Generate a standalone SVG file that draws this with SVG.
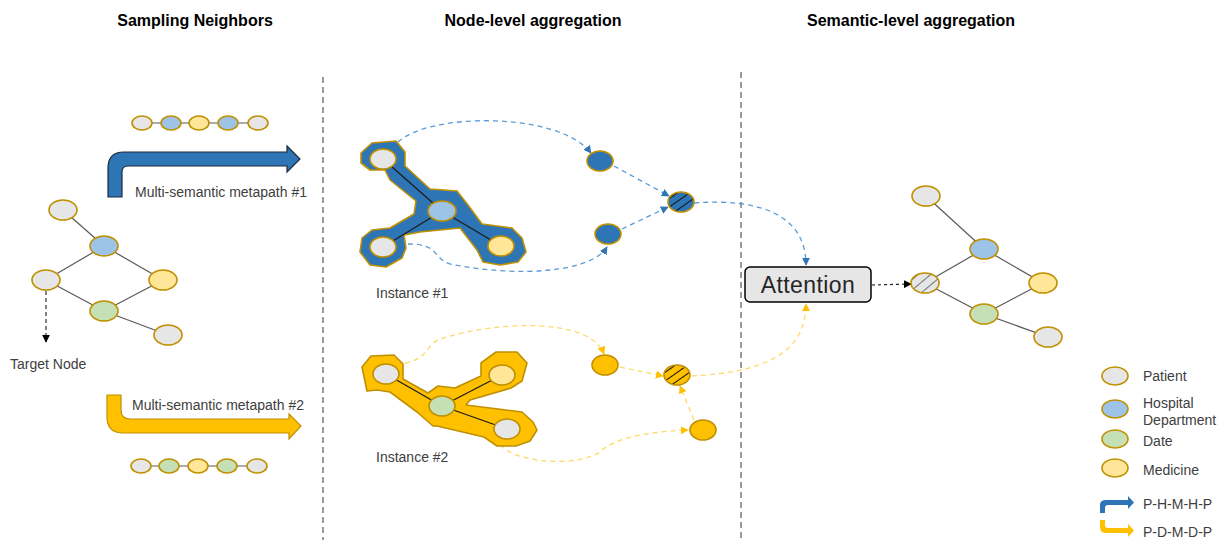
<svg xmlns="http://www.w3.org/2000/svg" width="1231" height="540" viewBox="0 0 1231 540">
<defs>
<style>
.t{font-family:"Liberation Sans",Arial,sans-serif;font-weight:bold;font-size:16px;fill:#000;text-anchor:middle}
.lb{font-family:"Liberation Sans",Arial,sans-serif;font-size:14px;fill:#404040}
.n{stroke:#BF9000;stroke-width:1.6}
.pa{fill:#E7E6E6}.ho{fill:#9DC3E6}.da{fill:#C5E0B4}.me{fill:#FFE699}.db{fill:#2E75B6}.dy{fill:#FFC000}
.e{stroke:#595959;stroke-width:1.2;fill:none}
.ie{stroke:#1a1a1a;stroke-width:1.2;fill:none}
.bd{stroke:#5B9BD5;stroke-width:1.3;stroke-dasharray:5 4;fill:none}
.yd{stroke:#FFD966;stroke-width:1.3;stroke-dasharray:5 4;fill:none}
.sep{stroke:#595959;stroke-width:1.2;stroke-dasharray:6 4}
</style>
<marker id="ab" viewBox="0 0 10 10" refX="9" refY="5" markerWidth="8" markerHeight="8" orient="auto" markerUnits="userSpaceOnUse"><path d="M0,0 L10,5 L0,10 Z" fill="#2E75B6"/></marker>
<marker id="ay" viewBox="0 0 10 10" refX="9" refY="5" markerWidth="8" markerHeight="8" orient="auto" markerUnits="userSpaceOnUse"><path d="M0,0 L10,5 L0,10 Z" fill="#FFC000"/></marker>
<marker id="ak" viewBox="0 0 10 10" refX="9" refY="5" markerWidth="8" markerHeight="8" orient="auto" markerUnits="userSpaceOnUse"><path d="M0,0 L10,5 L0,10 Z" fill="#000"/></marker>
<pattern id="hb" width="7" height="7" patternUnits="userSpaceOnUse" patternTransform="rotate(-35)"><rect width="7" height="7" fill="#2E75B6"/><line x1="0" y1="0" x2="7" y2="0" stroke="#111" stroke-width="2"/></pattern>
<pattern id="hy" width="7" height="7" patternUnits="userSpaceOnUse" patternTransform="rotate(-35)"><rect width="7" height="7" fill="#FFC000"/><line x1="0" y1="0" x2="7" y2="0" stroke="#111" stroke-width="2"/></pattern>
<pattern id="hg" width="8" height="8" patternUnits="userSpaceOnUse" patternTransform="rotate(-40)"><rect width="8" height="8" fill="#E7E6E6"/><line x1="0" y1="0" x2="8" y2="0" stroke="#333" stroke-width="1.3"/></pattern>
</defs>
<rect width="1231" height="540" fill="#fff"/>

<g id="titles">
<text class="t" x="195" y="26">Sampling Neighbors</text>
<text class="t" x="533" y="26">Node-level aggregation</text>
<text class="t" x="911" y="26">Semantic-level aggregation</text>
</g>

<g id="separators">
<line class="sep" x1="323" y1="77" x2="323" y2="540"/>
<line class="sep" x1="741" y1="72" x2="741" y2="540"/>
</g>

<g id="connectors">
<line class="e" x1="63" y1="210" x2="104" y2="246"/>
<line class="e" x1="104" y1="246" x2="46" y2="280"/>
<line class="e" x1="104" y1="246" x2="163" y2="280"/>
<line class="e" x1="46" y1="280" x2="104" y2="311"/>
<line class="e" x1="104" y1="311" x2="163" y2="280"/>
<line class="e" x1="104" y1="311" x2="168" y2="335"/>
<line x1="46" y1="291" x2="46" y2="342" stroke="#333" stroke-width="1.2" stroke-dasharray="4 3" marker-end="url(#ak)"/>
<line class="e" x1="142" y1="123" x2="258" y2="123"/>
<line class="e" x1="141" y1="466" x2="257" y2="466"/>
<path class="bd" d="M398,142 C430,112 560,112 591,153" marker-end="url(#ab)"/>
<path class="bd" d="M614,166 L669,196" marker-end="url(#ab)"/>
<path class="bd" d="M622,229 L668,207" marker-end="url(#ab)"/>
<path class="bd" d="M408,244 C440,244 432,258 450,264 C520,278 592,272 607,247" marker-end="url(#ab)"/>
<path class="bd" stroke-dasharray="3 3" d="M694,203 C760,198 806,215 806,265" marker-end="url(#ab)"/>
<path class="yd" d="M405,363 C430,358 424,346 440,339 C500,320 590,318 604,354" marker-end="url(#ay)"/>
<path class="yd" d="M620,367 L663,376" marker-end="url(#ay)"/>
<path class="yd" d="M694,420 L680,386" marker-end="url(#ay)"/>
<path class="yd" d="M500,445 C520,465 580,466 600,452 C612,440 640,432 688,430" marker-end="url(#ay)"/>
<path class="yd" stroke-dasharray="3 3" d="M692,376 C770,372 806,350 806,304" marker-end="url(#ay)"/>
<line x1="872" y1="285" x2="911" y2="284" stroke="#222" stroke-width="1.2" stroke-dasharray="3 3" marker-end="url(#ak)"/>
<line class="e" x1="926" y1="196" x2="984" y2="249"/>
<line class="e" x1="984" y1="249" x2="925" y2="283"/>
<line class="e" x1="984" y1="249" x2="1043" y2="283"/>
<line class="e" x1="925" y1="283" x2="984" y2="314"/>
<line class="e" x1="984" y1="314" x2="1043" y2="283"/>
<line class="e" x1="984" y1="314" x2="1048" y2="337"/>
</g>

<g id="left-graph">
<ellipse class="n pa" cx="63" cy="210" rx="14" ry="10"/>
<ellipse class="n ho" cx="104" cy="246" rx="14" ry="10"/>
<ellipse class="n pa" cx="46" cy="280" rx="14" ry="10"/>
<ellipse class="n me" cx="163" cy="280" rx="14" ry="10"/>
<ellipse class="n da" cx="104" cy="311" rx="14" ry="10"/>
<ellipse class="n pa" cx="168" cy="335" rx="14" ry="10"/>
<text class="lb" x="10" y="369">Target Node</text>
</g>

<g id="chain-1">
<ellipse class="n pa" cx="142" cy="123" rx="10" ry="7"/>
<ellipse class="n ho" cx="171" cy="123" rx="10" ry="7"/>
<ellipse class="n me" cx="199" cy="123" rx="10" ry="7"/>
<ellipse class="n ho" cx="228" cy="123" rx="10" ry="7"/>
<ellipse class="n pa" cx="258" cy="123" rx="10" ry="7"/>
</g>
<g id="chain-2">
<ellipse class="n pa" cx="141" cy="466" rx="10" ry="7"/>
<ellipse class="n da" cx="169" cy="466" rx="10" ry="7"/>
<ellipse class="n me" cx="198" cy="466" rx="10" ry="7"/>
<ellipse class="n da" cx="227" cy="466" rx="10" ry="7"/>
<ellipse class="n pa" cx="257" cy="466" rx="10" ry="7"/>
</g>

<g id="metapath-arrow-1">
<path d="M108,197 L108,168 Q108,152 124,152 L287,152 L287,146 L300,159 L287,172 L287,166 L128,166 Q122,166 122,172 L122,197 Z" fill="#2E75B6" stroke="#1a2a3a" stroke-width="1.2"/>
<text class="lb" x="135" y="197" font-size="14.5">Multi-semantic metapath #1</text>
</g>
<g id="metapath-arrow-2">
<path d="M107,395 L121,395 L121,410 Q121,419 130,419 L289,419 L289,414 L301,426 L289,439 L289,433 L123,433 Q107,433 107,417 Z" fill="#FFC000" stroke="#BF9000" stroke-width="1.2"/>
<text class="lb" x="132" y="410" font-size="14.5">Multi-semantic metapath #2</text>
</g>

<g id="instance-1">
<polygon points="361,153 372,143 396,141 405,152 405,166 430,189 457,191 468,205 482,224 512,228 522,238 526,252 518,262 500,265 483,262 477,250 460,228 420,232 404,235 406,248 402,258 386,267 370,265 360,252 362,238 372,230 390,228 414,214 416,201 390,180 385,170 370,170 361,163" fill="#2E75B6" stroke="#BF9000" stroke-width="1.6" stroke-linejoin="round"/>
<line class="ie" x1="383" y1="159" x2="442" y2="211"/>
<line class="ie" x1="442" y1="211" x2="383" y2="247"/>
<line class="ie" x1="442" y1="211" x2="501" y2="246"/>
<ellipse class="n pa" cx="383" cy="159" rx="13" ry="10"/>
<ellipse class="n ho" cx="442" cy="211" rx="14" ry="10"/>
<ellipse class="n pa" cx="383" cy="247" rx="13" ry="10"/>
<ellipse class="n me" cx="501" cy="246" rx="13" ry="10"/>
<text class="lb" x="376" y="298">Instance #1</text>
</g>

<g id="instance-2">
<polygon points="362,367 371,356 394,355 403,364 403,379 428,393 438,386 455,388 481,376 481,363 496,352 517,352 527,363 522,381 511,388 470,400 466,405 522,412 533,422 537,430 530,441 516,446 497,446 484,437 437,426 433,426 417,412 390,392 377,390 367,391" fill="#FFC000" stroke="#BF9000" stroke-width="1.6" stroke-linejoin="round"/>
<line class="ie" x1="386" y1="374" x2="442" y2="406"/>
<line class="ie" x1="442" y1="406" x2="502" y2="375"/>
<line class="ie" x1="442" y1="406" x2="507" y2="429"/>
<ellipse class="n pa" cx="386" cy="374" rx="13" ry="10"/>
<ellipse class="n me" cx="502" cy="375" rx="13" ry="10"/>
<ellipse class="n da" cx="442" cy="406" rx="13" ry="10"/>
<ellipse class="n pa" cx="507" cy="429" rx="13" ry="10"/>
<text class="lb" x="376" y="462">Instance #2</text>
</g>

<g id="blue-embed-1"><ellipse class="n db" cx="600" cy="161" rx="13" ry="10"/></g>
<g id="blue-embed-2"><ellipse class="n db" cx="608" cy="234" rx="13" ry="10"/></g>
<g id="blue-agg"><ellipse class="n" cx="681" cy="202" rx="13" ry="10" fill="url(#hb)"/></g>
<g id="yellow-embed-1"><ellipse class="n dy" cx="605" cy="365" rx="13" ry="10"/></g>
<g id="yellow-embed-2"><ellipse class="n dy" cx="703" cy="430" rx="13" ry="10"/></g>
<g id="yellow-agg"><ellipse class="n" cx="677" cy="375" rx="13" ry="10" fill="url(#hy)"/></g>

<g id="attention">
<rect x="745" y="267" width="126" height="35" rx="5" fill="#E7E6E6" stroke="#000" stroke-width="1.5"/>
<text x="808" y="293" font-family="Liberation Sans,Arial,sans-serif" font-size="23" fill="#262626" text-anchor="middle" letter-spacing="0.4">Attention</text>
</g>

<g id="right-graph">
<ellipse class="n pa" cx="926" cy="196" rx="14" ry="10"/>
<ellipse class="n ho" cx="984" cy="249" rx="14" ry="10"/>
<ellipse class="n" cx="925" cy="283" rx="14" ry="10" fill="url(#hg)"/>
<ellipse class="n me" cx="1043" cy="283" rx="14" ry="10"/>
<ellipse class="n da" cx="984" cy="314" rx="14" ry="10"/>
<ellipse class="n pa" cx="1048" cy="337" rx="14" ry="10"/>
</g>

<g id="legend">
<ellipse class="n pa" cx="1115" cy="376" rx="13" ry="9"/>
<text class="lb" x="1143" y="381">Patient</text>
<ellipse class="n ho" cx="1115" cy="409" rx="13" ry="9"/>
<text class="lb" x="1143" y="408">Hospital</text>
<text class="lb" x="1143" y="425">Department</text>
<ellipse class="n da" cx="1115" cy="439" rx="13" ry="9"/>
<text class="lb" x="1143" y="446">Date</text>
<ellipse class="n me" cx="1115" cy="468" rx="13" ry="9"/>
<text class="lb" x="1143" y="475">Medicine</text>
<path d="M1100,513 L1100,505 Q1100,500 1106,500 L1128,500 L1128,496 L1134,502.5 L1128,509 L1128,505 L1108,505 Q1105,505 1105,508 L1105,513 Z" fill="#2E75B6"/>
<text class="lb" x="1143" y="509">P-H-M-H-P</text>
<path d="M1100,520 L1105,520 L1105,525 Q1105,528 1108,528 L1128,528 L1128,524 L1134,530.5 L1128,537 L1128,533 L1106,533 Q1100,533 1100,527 Z" fill="#FFC000"/>
<text class="lb" x="1143" y="537">P-D-M-D-P</text>
</g>
</svg>
